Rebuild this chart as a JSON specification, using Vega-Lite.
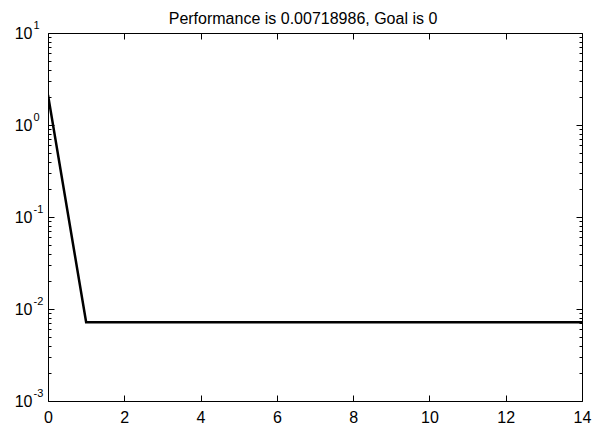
{
  "$schema": "https://vega.github.io/schema/vega-lite/v6.json",
  "width": 534,
  "height": 368,
  "autosize": {"type": "none"},
  "padding": {"left": 48, "top": 33, "right": 13, "bottom": 24},
  "background": "white",
  "config": {
    "view": {"stroke": "black", "strokeWidth": 1},
    "font": "Liberation Sans",
    "axis": {
      "grid": false,
      "domain": false,
      "tickColor": "black",
      "tickWidth": 1,
      "labelColor": "black",
      "labelFont": "Liberation Sans",
      "labelFontSize": 16,
      "labelOverlap": false,
      "labelFlush": false,
      "labelBound": false,
      "title": null
    }
  },
  "title": {
    "text": "Performance is 0.00718986, Goal is 0",
    "font": "Liberation Sans",
    "fontSize": 16,
    "fontWeight": "normal",
    "color": "black",
    "anchor": "middle",
    "frame": "group",
    "baseline": "alphabetic",
    "offset": 0,
    "dy": 20.5,
    "dx": -12
  },
  "data": {
    "values": [
      {"epoch": 0, "perf": 2.12},
      {"epoch": 1, "perf": 0.00718986},
      {"epoch": 2, "perf": 0.00718986},
      {"epoch": 3, "perf": 0.00718986},
      {"epoch": 4, "perf": 0.00718986},
      {"epoch": 5, "perf": 0.00718986},
      {"epoch": 6, "perf": 0.00718986},
      {"epoch": 7, "perf": 0.00718986},
      {"epoch": 8, "perf": 0.00718986},
      {"epoch": 9, "perf": 0.00718986},
      {"epoch": 10, "perf": 0.00718986},
      {"epoch": 11, "perf": 0.00718986},
      {"epoch": 12, "perf": 0.00718986},
      {"epoch": 13, "perf": 0.00718986},
      {"epoch": 14, "perf": 0.00718986}
    ]
  },
  "layer": [
    {
      "mark": {"type": "line", "color": "black", "strokeWidth": 2.5, "clip": true},
      "encoding": {
        "x": {
          "field": "epoch", "type": "quantitative",
          "scale": {"domain": [0, 14], "nice": false, "zero": false},
          "axis": {"orient": "bottom", "values": [0, 2, 4, 6, 8, 10, 12, 14], "tickSize": -6, "labelPadding": 14, "labelBaseline": "top"}
        },
        "y": {
          "field": "perf", "type": "quantitative",
          "scale": {"type": "log", "domain": [0.001, 10], "nice": false},
          "axis": {"orient": "left", "values": [0.001, 0.01, 0.1, 1, 10], "tickSize": -6, "labelPadding": 22, "labelExpr": "'10'", "labelBaseline": "middle"}
        }
      }
    },
    {
      "mark": {"type": "line", "opacity": 0},
      "encoding": {
        "x": {
          "field": "epoch", "type": "quantitative",
          "axis": {"orient": "top", "values": [0, 2, 4, 6, 8, 10, 12, 14], "tickSize": -6, "labels": false}
        },
        "y": {
          "field": "perf", "type": "quantitative",
          "axis": {"orient": "left", "values": [0.001, 0.01, 0.1, 1, 10], "ticks": false, "labelPadding": 15, "labelAlign": "left", "labelFontSize": 11, "labelOffset": -8, "labelExpr": "'' + round(log(datum.value) / LN10)", "labelBaseline": "middle"}
        }
      }
    },
    {
      "mark": {"type": "line", "opacity": 0},
      "encoding": {
        "x": {"field": "epoch", "type": "quantitative", "axis": null},
        "y": {
          "field": "perf", "type": "quantitative",
          "axis": {"orient": "right", "values": [0.001, 0.01, 0.1, 1, 10], "tickSize": -6, "labels": false}
        }
      }
    },
    {
      "mark": {"type": "line", "opacity": 0},
      "encoding": {
        "x": {"field": "epoch", "type": "quantitative", "axis": null},
        "y": {
          "field": "perf", "type": "quantitative",
          "axis": {"orient": "left", "values": [0.002, 0.003, 0.004, 0.005, 0.006, 0.007, 0.008, 0.009, 0.02, 0.03, 0.04, 0.05, 0.06, 0.07, 0.08, 0.09, 0.2, 0.3, 0.4, 0.5, 0.6, 0.7, 0.8, 0.9, 2, 3, 4, 5, 6, 7, 8, 9], "tickSize": -3, "labels": false}
        }
      }
    },
    {
      "mark": {"type": "line", "opacity": 0},
      "encoding": {
        "x": {"field": "epoch", "type": "quantitative", "axis": null},
        "y": {
          "field": "perf", "type": "quantitative",
          "axis": {"orient": "right", "values": [0.002, 0.003, 0.004, 0.005, 0.006, 0.007, 0.008, 0.009, 0.02, 0.03, 0.04, 0.05, 0.06, 0.07, 0.08, 0.09, 0.2, 0.3, 0.4, 0.5, 0.6, 0.7, 0.8, 0.9, 2, 3, 4, 5, 6, 7, 8, 9], "tickSize": -3, "labels": false}
        }
      }
    }
  ],
  "resolve": {"axis": {"x": "independent", "y": "independent"}}
}
